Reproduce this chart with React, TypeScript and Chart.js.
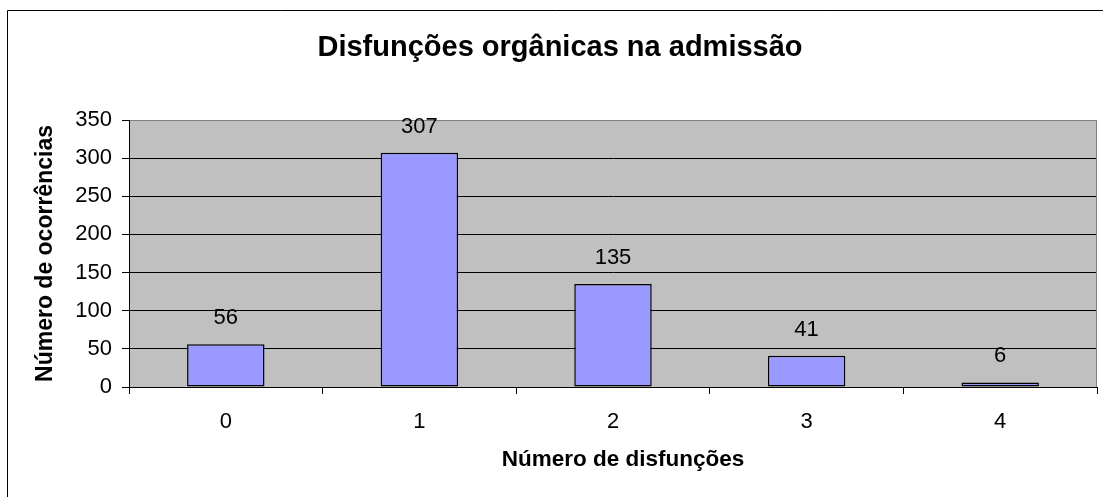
import React, { useEffect, useRef } from 'react';
import { Chart, registerables } from 'chart.js';

Chart.register(...registerables);

const categories: string[] = ['0', '1', '2', '3', '4'];
const occurrences: number[] = [56, 307, 135, 41, 6];
const yMin = 0;
const yMax = 350;
const yStep = 50;
const chartTitle = 'Disfunções orgânicas na admissão';
const xAxisTitle = 'Número de disfunções';
const yAxisTitle = 'Número de ocorrências';

const FONT = "'Liberation Sans', Arial, sans-serif";

export default function App() {
  const ref = useRef<HTMLCanvasElement | null>(null);

  useEffect(() => {
    if (!ref.current) return;

    const decor = {
      id: 'decor',
      beforeDraw(chart: any) {
        const { ctx, chartArea } = chart;
        ctx.save();
        ctx.fillStyle = '#ffffff';
        ctx.fillRect(0, 0, chart.width, chart.height);
        ctx.strokeStyle = '#000000';
        ctx.lineWidth = 1;
        ctx.beginPath();
        ctx.moveTo(7.5, chart.height + 5);
        ctx.lineTo(7.5, 10.5);
        ctx.lineTo(chart.width + 5, 10.5);
        ctx.stroke();
        ctx.fillStyle = '#C0C0C0';
        ctx.fillRect(chartArea.left, chartArea.top, chartArea.right - chartArea.left, chartArea.bottom - chartArea.top);
        ctx.restore();
      },
      afterDraw(chart: any) {
        const { ctx, chartArea } = chart;
        ctx.save();
        ctx.strokeStyle = '#808080';
        ctx.lineWidth = 1;
        ctx.beginPath();
        ctx.moveTo(Math.round(chartArea.right) - 0.5, chartArea.top);
        ctx.lineTo(Math.round(chartArea.right) - 0.5, chartArea.bottom);
        ctx.stroke();
        ctx.fillStyle = '#000000';
        ctx.textAlign = 'center';
        ctx.textBaseline = 'middle';
        ctx.font = `bold 29px ${FONT}`;
        ctx.fillText(chartTitle, 560, 48);
        ctx.font = `bold 22.5px ${FONT}`;
        ctx.fillText(xAxisTitle, 623, 460);
        ctx.restore();
      },
      afterDatasetsDraw(chart: any) {
        const { ctx } = chart;
        const meta = chart.getDatasetMeta(0);
        ctx.save();
        ctx.fillStyle = '#000000';
        ctx.font = `22px ${FONT}`;
        ctx.textAlign = 'center';
        ctx.textBaseline = 'middle';
        meta.data.forEach((bar: any, i: number) => {
          ctx.fillText(String(occurrences[i]), bar.x, bar.y - 26);
        });
        ctx.restore();
      },
    };

    const chart = new Chart(ref.current, {
      type: 'bar',
      data: {
        labels: categories,
        datasets: [
          {
            data: occurrences,
            backgroundColor: '#9999FF',
            borderColor: '#000000',
            borderWidth: 1.5,
            borderSkipped: false,
            barPercentage: 0.4,
            categoryPercentage: 1,
          },
        ],
      },
      options: {
        animation: false,
        responsive: false,
        devicePixelRatio: 1,
        layout: { padding: { left: 0, right: 6, top: 120, bottom: 0 } },
        plugins: {
          legend: { display: false },
          tooltip: { enabled: false },
          title: { display: false },
        },
        scales: {
          x: {
            type: 'category',
            offset: true,
            grid: {
              display: true,
              drawOnChartArea: false,
              drawTicks: true,
              tickLength: 7,
              color: '#000000',
              offset: true,
            },
            border: { display: true, color: '#000000', width: 1 },
            ticks: {
              color: '#000000',
              font: { family: FONT, size: 22 },
              padding: 15,
              maxRotation: 0,
            },
            title: { display: false },
            afterFit(scale: any) {
              scale.height = 110;
            },
          },
          y: {
            min: yMin,
            max: yMax,
            ticks: {
              stepSize: yStep,
              color: '#000000',
              font: { family: FONT, size: 22 },
              padding: 10,
            },
            grid: {
              color: (c: any) => (c.tick && c.tick.value === yMax ? '#808080' : '#000000'),
              tickColor: '#000000',
              tickLength: 7,
              drawTicks: true,
            },
            border: { display: true, color: '#000000', width: 1 },
            title: {
              display: true,
              text: yAxisTitle,
              color: '#000000',
              font: { family: FONT, size: 23, weight: 'bold', lineHeight: 1.2 },
              padding: { top: 32, bottom: 0 },
            },
            afterFit(scale: any) {
              scale.width = 129;
            },
          },
        },
      },
      plugins: [decor],
    });

    return () => chart.destroy();
  }, []);

  return (
    <div style={{ position: 'absolute', left: 0, top: 0, width: 1103, height: 497 }}>
      <canvas ref={ref} width={1103} height={497} style={{ display: 'block' }} />
    </div>
  );
}
